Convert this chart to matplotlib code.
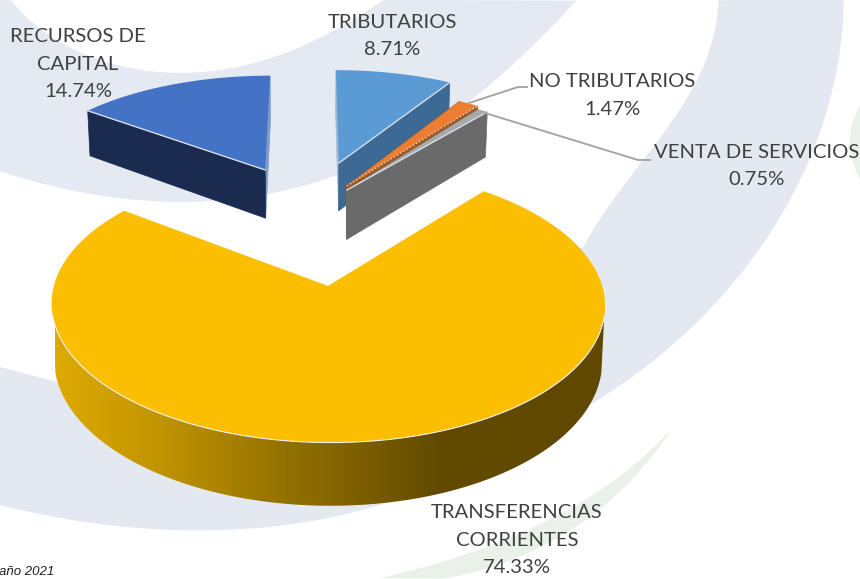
import matplotlib
matplotlib.use('Agg')
import matplotlib.pyplot as plt
import numpy as np
from matplotlib.colors import LinearSegmentedColormap
from matplotlib.patches import Polygon

plt.rcParams['font.family'] = ['Lato', 'DejaVu Sans']

# data, clockwise from the top
labels = ['TRIBUTARIOS', 'NO TRIBUTARIOS', 'VENTA DE SERVICIOS', 'TRANSFERENCIAS\nCORRIENTES', 'RECURSOS DE\nCAPITAL']
values = [8.71, 1.47, 0.75, 74.33, 14.74]
top_colors = ['#5B9BD5', '#ED7D31', '#A9A9A9', '#FBBE00', '#4472C4']
side_colors = ['#3C6A94', '#A05A20', '#6A6A6A', '#7A5C00', '#1A2B4F']
# thin wall on the far cut of the slice, only seen as a sliver
sliver_colors = ['#9DB8D0', '#A05A20', '#6A6A6A', None, '#7F9BCB']
# how far every slice is pulled out of the pie (disc units)
explode_x = [0.116, 0.145, 0.145, 0.062, -0.189]
explode_y = [0.514, 0.30, 0.2627, -0.5216, 0.448]
draw_order = [4, 0, 1, 2, 3]
label_pos = [(392, 36), (612, 95.5), (757, 166), (517, 540), (78, 64)]

# camera of the fake 3d pie
cx, cy = 311, 220
fx, fy = 256, 118
persp = 0.127
depth = 51

band_color = '#E4E9F2'
green_color = '#E9F1E9'


def project(x, y):
    d = 1 + persp * y
    return cx + fx * x / d, cy - fy * y / d


def project_low(x, y):
    px, py = project(x, y)
    return cx + (px - cx) * 0.99, py + depth / (1 + persp * y)


def curve(points, deg=4, n=80):
    # smooth curve near the points, for the background swooshes
    p = np.array(points, dtype=float)
    s = np.r_[0, np.cumsum(np.hypot(*np.diff(p, axis=0).T))]
    s = s / s[-1]
    t = np.linspace(0, 1, n)
    return np.column_stack([np.polyval(np.polyfit(s, p[:, 0], deg), t),
                            np.polyval(np.polyfit(s, p[:, 1], deg), t)])


def wall(ax, x, y, color, z):
    tx, ty = project(x, y)
    bx, by = project_low(x, y)
    pts = np.column_stack([np.r_[tx, bx[::-1]], np.r_[ty, by[::-1]]])
    patch = Polygon(pts, closed=True, facecolor=color, edgecolor=color, linewidth=0.5, zorder=z)
    ax.add_patch(patch)
    return patch


fig = plt.figure(figsize=(8.6, 5.79), dpi=100)
ax = fig.add_axes([0, 0, 1, 1])

# background swooshes
upper = np.vstack([
    curve([(576, 0), (548, 33), (450, 112), (400, 148), (329, 180), (240, 197), (165, 201), (90, 194), (23, 180), (0, 170)]),
    [(0, 0)],
    curve([(11, 0), (55, 40), (110, 62), (181, 73), (260, 62), (330, 32), (384, 0)]),
])
lower = np.vstack([
    curve([(845, 0), (838, 50), (825, 120), (790, 197), (730, 293), (647, 360), (590, 407)], deg=3),
    curve([(410, 495), (360, 511), (300, 523), (170, 529), (120, 527), (60, 518), (0, 505)], deg=3),
    curve([(0, 367), (57, 382)], deg=1, n=4),
    curve([(583, 247), (620, 193), (670, 120), (708, 60), (718, 0)], deg=3),
])
green = np.vstack([
    curve([(670, 430), (640, 462), (597, 490), (540, 525), (480, 550), (400, 572), (380, 579)], deg=3),
    curve([(447, 579), (530, 549), (607, 507), (670, 430)], deg=2),
])
ax.add_patch(Polygon(upper, closed=True, facecolor=band_color, edgecolor='none', zorder=1))
ax.add_patch(Polygon(lower, closed=True, facecolor='#E4E8F1', edgecolor='none', zorder=1))
ax.add_patch(Polygon(green, closed=True, facecolor=green_color, edgecolor='none', zorder=1))
ax.add_patch(Polygon(curve([(860, 105), (851, 130), (860, 180)], deg=2), closed=True,
                     facecolor=green_color, edgecolor='none', zorder=1))

# slices
edges = np.cumsum([0] + values) / sum(values) * 2 * np.pi
z = 2
for i in draw_order:
    a0, a1 = edges[i], edges[i + 1]
    ox, oy = explode_x[i], explode_y[i]
    theta = np.linspace(a0, a1, 200)
    arc_x = ox + np.sin(theta)
    arc_y = oy + np.cos(theta)

    if i == 3:
        # yellow slice only shows its shaded rim
        front = np.cos(theta) < -0.2
        rim = wall(ax, arc_x[front], arc_y[front], 'none', z)
        cmap = LinearSegmentedColormap.from_list('rim', [
            (0.0, '#DEAA00'), (0.172, '#C49600'), (0.443, '#8F6E00'),
            (0.588, '#765A00'), (0.696, '#624A00'), (1.0, '#604800')])
        img = ax.imshow(np.linspace(0, 1, 512).reshape(1, -1), cmap=cmap, vmin=0, vmax=1, aspect='auto',
                        extent=[55, 605, 520, 280], zorder=z)
        img.set_clip_path(rim)
    elif i == 4:
        wall(ax, np.array([ox, ox + np.sin(a1)]), np.array([oy, oy + np.cos(a1)]), sliver_colors[i], z)
        wall(ax, np.array([ox, ox + np.sin(a0)]), np.array([oy, oy + np.cos(a0)]), side_colors[i], z + 1)
    else:
        wall(ax, np.array([ox, ox + np.sin(a0)]), np.array([oy, oy + np.cos(a0)]), sliver_colors[i], z)
        wall(ax, np.array([ox, ox + np.sin(a1)]), np.array([oy, oy + np.cos(a1)]), side_colors[i], z + 1)
    z += 2

    px, py = project(np.r_[ox, arc_x], np.r_[oy, arc_y])
    ax.add_patch(Polygon(np.column_stack([px, py]), closed=True, facecolor=top_colors[i], edgecolor='none', zorder=z))
    z += 1

    # pale highlight on the edges that face the viewer
    if i == 3:
        sel = np.cos(theta) < -0.2
        hx, hy = project(arc_x[sel], arc_y[sel])
        ax.plot(hx, hy, color='#F0F0EC', lw=0.8, zorder=z)
    elif i == 4:
        hx, hy = project(np.array([ox, arc_x[0]]), np.array([oy, arc_y[0]]))
        ax.plot(hx, hy, color='#D5DEEA', lw=1.0, zorder=z)
    else:
        hx, hy = project(np.array([ox, arc_x[-1]]), np.array([oy, arc_y[-1]]))
        ax.plot(hx, hy, color='#D5DEEA', lw=1.0, ls=':' if i == 1 else '-', zorder=z)
    z += 1

# leader lines
ax.plot([469, 518, 527], [103, 87, 87], color='#A5A5A5', lw=1.4, zorder=40)
ax.plot([485, 638, 650], [113, 160, 160], color='#A5A5A5', lw=1.4, zorder=40)

# labels
for i in range(len(labels)):
    ax.text(label_pos[i][0], label_pos[i][1], labels[i] + '\n' + '%.2f%%' % values[i],
            ha='center', va='center', fontsize=14.6, color='#404040', linespacing=1.75, zorder=50)

ax.text(-1, 572, 'año 2021', family='Liberation Sans', style='italic', fontsize=9.5, color='#202020',
        ha='left', va='center', zorder=50)

ax.set_xlim(0, 860)
ax.set_ylim(579, 0)
ax.axis('off')
fig.savefig('out.png', dpi=100, facecolor='white')
